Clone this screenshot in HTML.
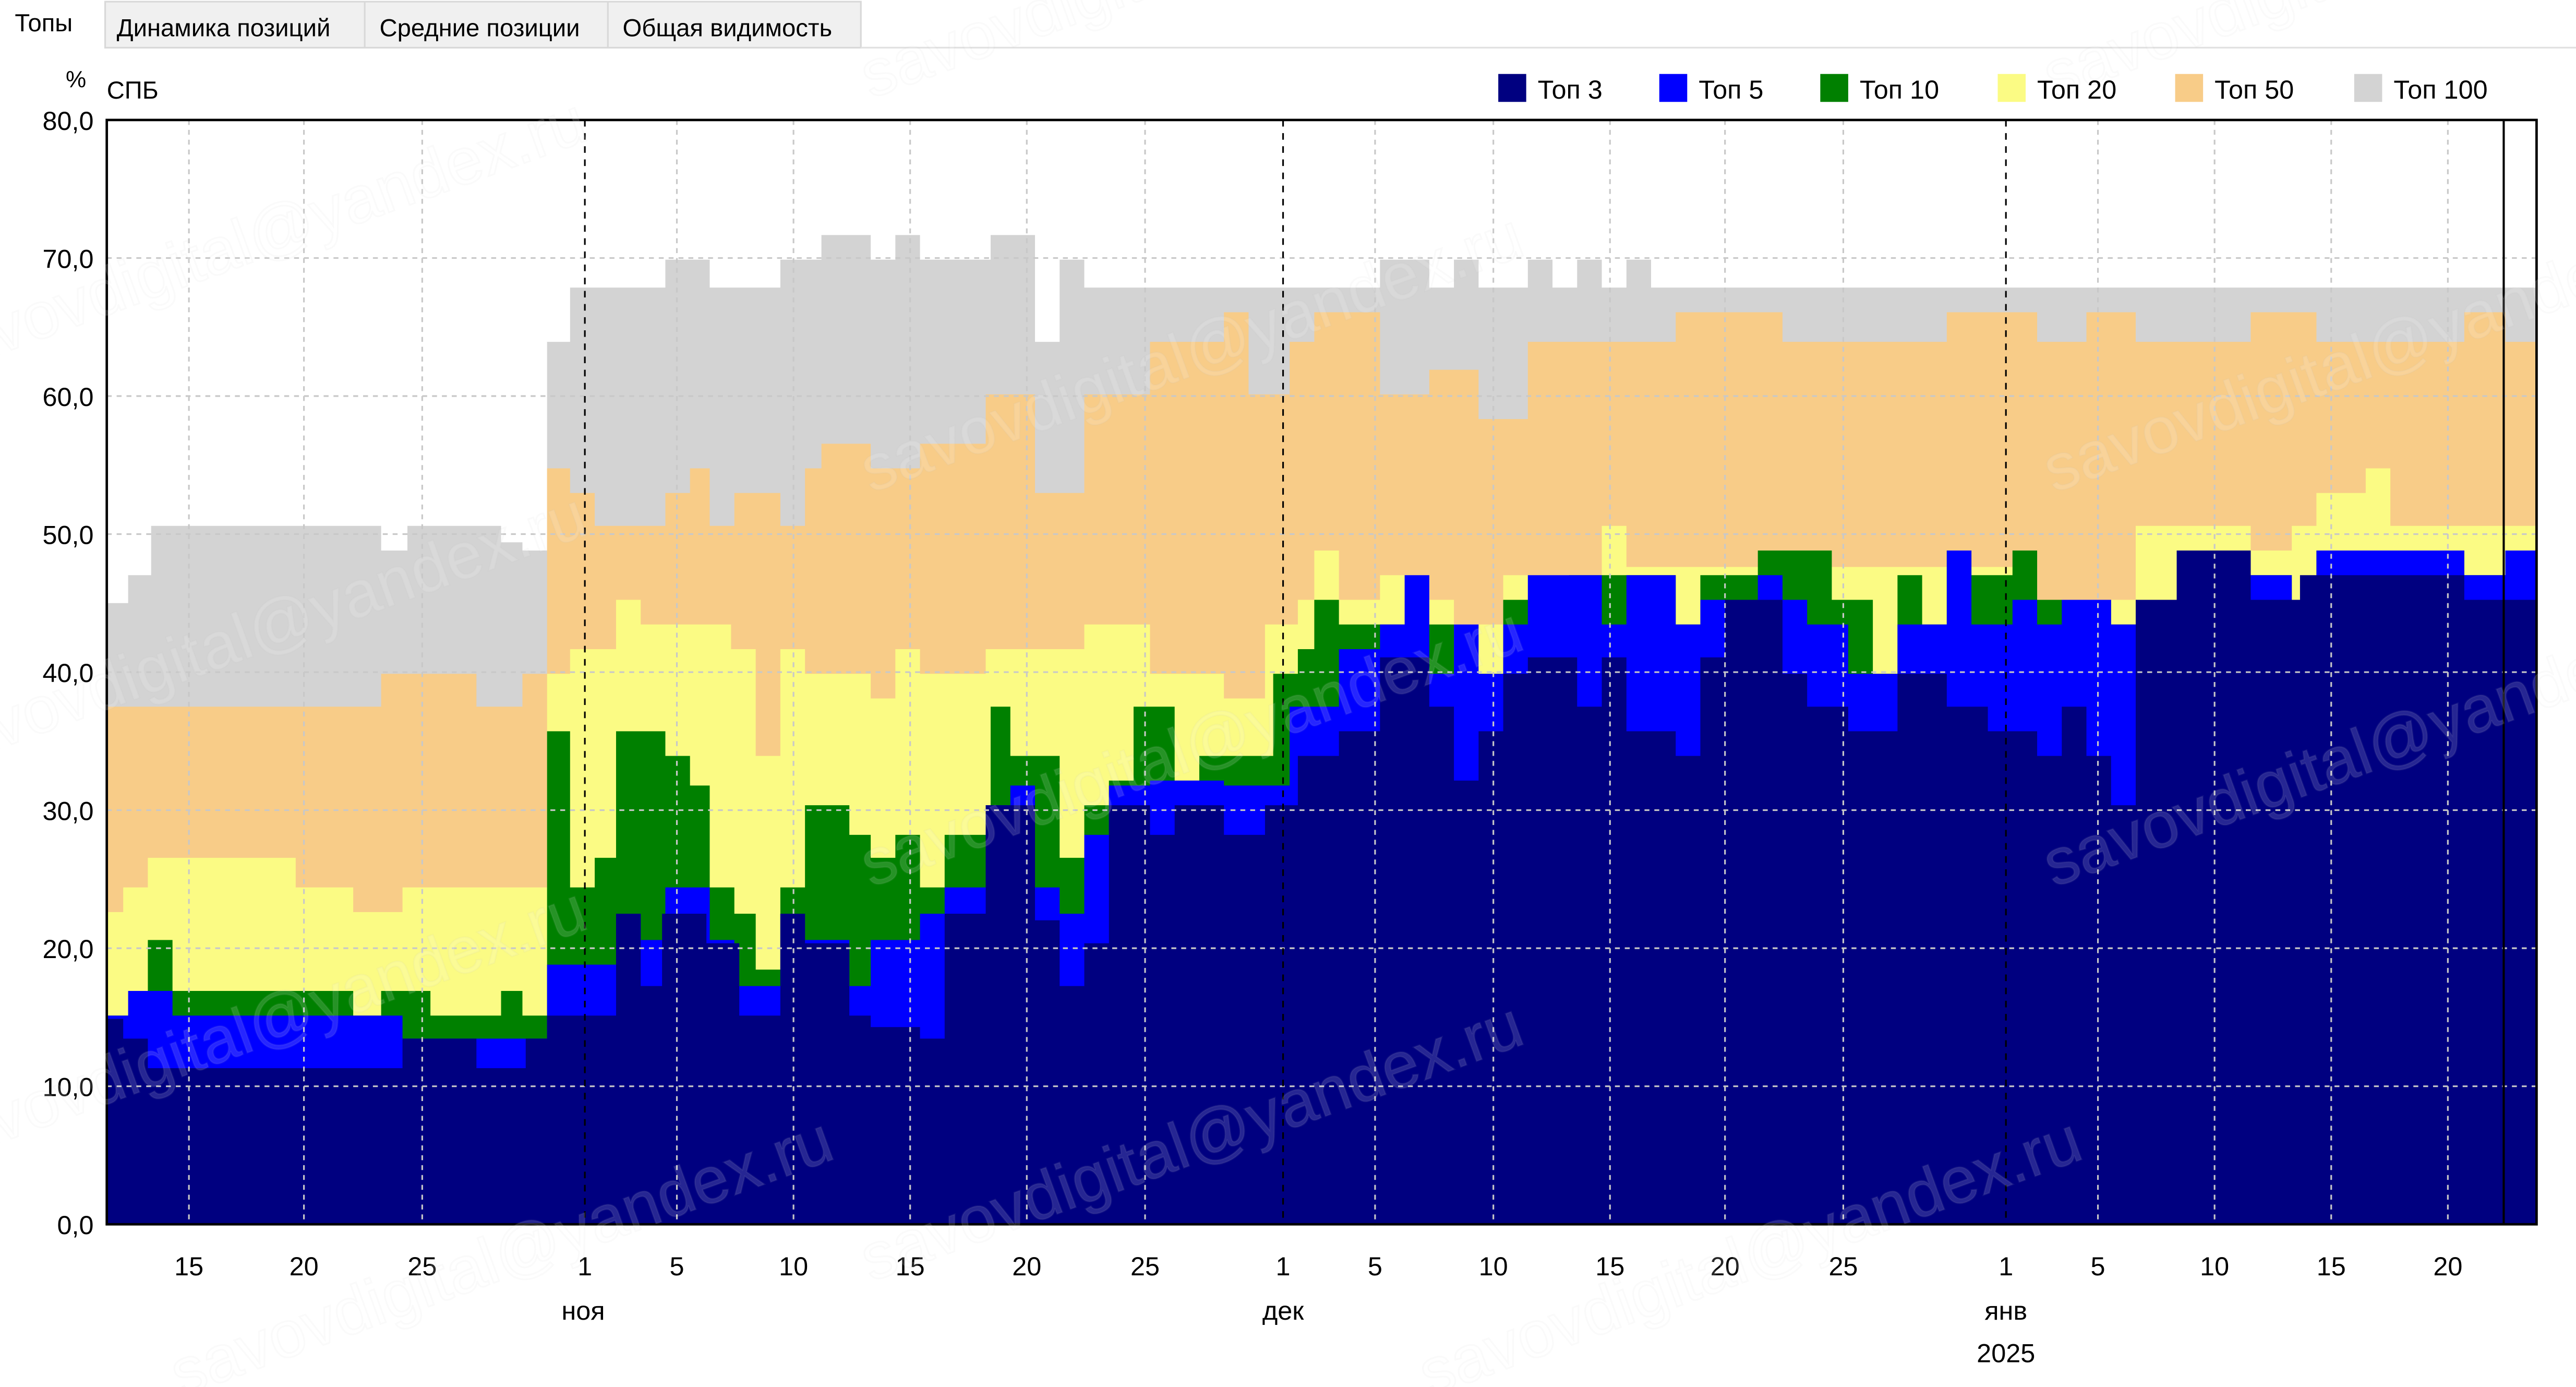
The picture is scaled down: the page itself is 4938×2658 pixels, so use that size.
<!DOCTYPE html>
<html><head><meta charset="utf-8">
<style>
html,body{margin:0;padding:0;background:#fff;}
svg{display:block;}
text{font-family:"Liberation Sans","DejaVu Sans",sans-serif;}
</style></head>
<body>
<svg id="s" width="4938" height="2658" viewBox="0 0 1568 844" xmlns="http://www.w3.org/2000/svg">
<rect x="0" y="0" width="1568" height="844" fill="#fff"/>
<rect x="64" y="1" width="460" height="28" fill="#f0f0f0" stroke="#d8d8d8"/>
<line x1="222" y1="1" x2="222" y2="29" stroke="#d8d8d8"/>
<line x1="370" y1="1" x2="370" y2="29" stroke="#d8d8d8"/>
<line x1="524" y1="29" x2="1568" y2="29" stroke="#e0e0e0"/>
<text x="9" y="19" font-size="15">Топы</text>
<text x="71" y="22" font-size="15">Динамика позиций</text>
<text x="231" y="22" font-size="15">Средние позиции</text>
<text x="379" y="22" font-size="15">Общая видимость</text>
<text x="40" y="53" font-size="14">%</text>
<text x="65" y="60" font-size="15">СПБ</text>
<g id="plot"></g>
<g id="leg" font-size="16">
<rect x="912" y="45" width="17" height="17" fill="#000080"/><text x="936" y="60">Топ 3</text>
<rect x="1010" y="45" width="17" height="17" fill="#0000ff"/><text x="1034" y="60">Топ 5</text>
<rect x="1108" y="45" width="17" height="17" fill="#008000"/><text x="1132" y="60">Топ 10</text>
<rect x="1216" y="45" width="17" height="17" fill="#fbfb84"/><text x="1240" y="60">Топ 20</text>
<rect x="1324" y="45" width="17" height="17" fill="#f8cc88"/><text x="1348" y="60">Топ 50</text>
<rect x="1433" y="45" width="17" height="17" fill="#d3d3d3"/><text x="1457" y="60">Топ 100</text>
</g>
</svg>
<script>
var NS="http://www.w3.org/2000/svg",g=document.getElementById('plot');
function el(t,a,txt){var e=document.createElementNS(NS,t);for(var k in a)e.setAttribute(k,a[k]);if(txt!==undefined)e.textContent=txt;g.appendChild(e);return e;}
var X0=65,X1=1544,Y0=745,YT=73;
var S={
gray:[[78,367],[92,350],[232,320],[248,335],[305,320],[318,330],[333,335],[347,208],[405,175],[432,158],[475,175],[500,158],[530,143],[545,158],[560,143],[603,158],[630,143],[645,208],[660,158],[840,175],[870,158],[885,175],[900,158],[930,175],[945,158],[960,175],[975,158],[990,175],[1005,158],[1025,175],[1544,175]],
orange:[[232,430],[290,410],[318,430],[333,410],[347,285],[362,300],[405,320],[420,300],[432,285],[447,320],[475,300],[490,320],[500,285],[530,270],[560,285],[600,270],[630,240],[660,300],[700,240],[745,208],[760,190],[785,240],[800,208],[840,190],[870,240],[900,225],[930,255],[1020,208],[1085,190],[1185,208],[1240,190],[1270,208],[1300,190],[1370,208],[1410,190],[1500,208],[1525,190],[1544,208]],
yellow:[[75,555],[90,540],[180,522],[215,540],[245,555],[333,540],[347,410],[375,395],[390,365],[445,380],[460,395],[475,460],[490,395],[530,410],[545,425],[560,395],[600,410],[660,395],[700,380],[745,410],[770,425],[790,380],[800,365],[815,335],[840,365],[870,350],[885,365],[915,380],[975,350],[990,320],[1240,345],[1300,365],[1370,320],[1395,335],[1410,320],[1440,300],[1455,285],[1544,320]],
green:[[90,618],[105,572],[215,603],[232,618],[262,603],[305,618],[318,603],[333,618],[347,445],[362,540],[375,522],[405,445],[420,460],[432,478],[447,540],[460,556],[475,590],[490,540],[517,490],[530,508],[545,522],[560,508],[575,540],[603,508],[615,430],[645,460],[660,522],[675,490],[690,475],[715,430],[730,475],[775,460],[790,410],[800,395],[815,365],[885,380],[915,410],[955,365],[1020,350],[1035,380],[1070,350],[1115,335],[1140,365],[1155,410],[1170,350],[1185,380],[1200,335],[1225,350],[1240,335],[1285,365],[1300,380],[1325,365],[1370,335],[1395,350],[1410,365],[1500,335],[1525,350],[1544,335]],
blue:[[78,618],[105,603],[245,618],[333,632],[375,587],[390,556],[405,572],[432,540],[447,572],[475,600],[490,556],[517,572],[530,600],[560,572],[575,556],[600,540],[615,490],[630,478],[645,540],[660,556],[675,508],[700,478],[745,475],[785,478],[815,430],[840,395],[855,380],[870,350],[885,410],[900,380],[915,410],[930,380],[975,350],[990,380],[1020,350],[1035,380],[1070,365],[1085,350],[1100,365],[1125,380],[1155,410],[1185,380],[1200,335],[1225,380],[1240,365],[1255,380],[1285,365],[1300,380],[1325,365],[1370,335],[1395,350],[1410,365],[1500,335],[1525,350],[1544,335]],
navy:[[75,620],[90,632],[245,650],[290,632],[320,650],[333,632],[375,618],[390,556],[403,600],[430,556],[450,574],[475,618],[490,556],[517,574],[530,618],[560,625],[575,632],[600,556],[630,490],[645,560],[660,600],[675,574],[700,490],[715,508],[745,490],[770,508],[790,490],[815,460],[840,445],[870,400],[885,430],[900,475],[915,445],[930,410],[960,400],[975,430],[990,400],[1020,445],[1035,460],[1050,400],[1085,365],[1100,410],[1125,430],[1155,445],[1185,410],[1210,430],[1240,445],[1255,460],[1270,430],[1285,460],[1300,490],[1325,365],[1370,335],[1400,365],[1500,350],[1525,365],[1544,365]]
};
var cols={gray:"#d3d3d3",orange:"#f8cc88",yellow:"#fbfb84",green:"#008000",blue:"#0000ff",navy:"#000080"};
["gray","orange","yellow","green","blue","navy"].forEach(function(k){
 var d="M"+X0+","+Y0,x=X0;
 S[k].forEach(function(p){d+=" L"+x+","+p[1]+" L"+p[0]+","+p[1];x=p[0];});
 d+=" L"+x+","+Y0+" Z";
 el("path",{d:d,fill:cols[k]});
});
for(var i=1;i<8;i++){var y=Y0-i*84;el("line",{x1:X0,y1:y,x2:X1,y2:y,stroke:"#c8c8c8","stroke-width":1,"stroke-dasharray":"3,3"});}
var ticks=[[115,"15"],[185,"20"],[257,"25"],[356,"1"],[412,"5"],[483,"10"],[554,"15"],[625,"20"],[697,"25"],[781,"1"],[837,"5"],[909,"10"],[980,"15"],[1050,"20"],[1122,"25"],[1221,"1"],[1277,"5"],[1348,"10"],[1419,"15"],[1490,"20"]];
ticks.forEach(function(t){
 var m=(t[1]=="1");
 el("line",{x1:t[0],y1:YT,x2:t[0],y2:Y0,stroke:m?"#000":"#c8c8c8","stroke-width":1,"stroke-dasharray":m?"4,4":"3,3"});
 el("text",{x:t[0],y:776,"font-size":16,"text-anchor":"middle"},t[1]);
});
el("line",{x1:1524,y1:YT,x2:1524,y2:Y0,stroke:"#000","stroke-width":1.3});
el("rect",{x:X0,y:YT,width:X1-X0,height:Y0-YT,fill:"none",stroke:"#000","stroke-width":1.5});
for(var i=0;i<=8;i++){el("text",{x:57,y:Y0-i*84+6,"font-size":16,"text-anchor":"end"},(i*10)+",0");}
el("text",{x:355,y:803,"font-size":16,"text-anchor":"middle"},"ноя");
el("text",{x:781,y:803,"font-size":16,"text-anchor":"middle"},"дек");
el("text",{x:1221,y:803,"font-size":16,"text-anchor":"middle"},"янв");
el("text",{x:1221,y:829,"font-size":16,"text-anchor":"middle"},"2025");
var wm=[[-40,230],[-40,470],[-40,710],[530,60],[530,300],[530,540],[530,780],[1250,60],[1250,300],[1250,540],[110,850],[870,850]];
wm.forEach(function(p){
 el("text",{x:p[0],y:p[1],"font-size":40,fill:"#ffffff","fill-opacity":0.15,stroke:"#bbbbbb","stroke-opacity":0.08,transform:"rotate(-20 "+p[0]+" "+p[1]+")"},"savovdigital@yandex.ru");
});
</script>
</body></html>
